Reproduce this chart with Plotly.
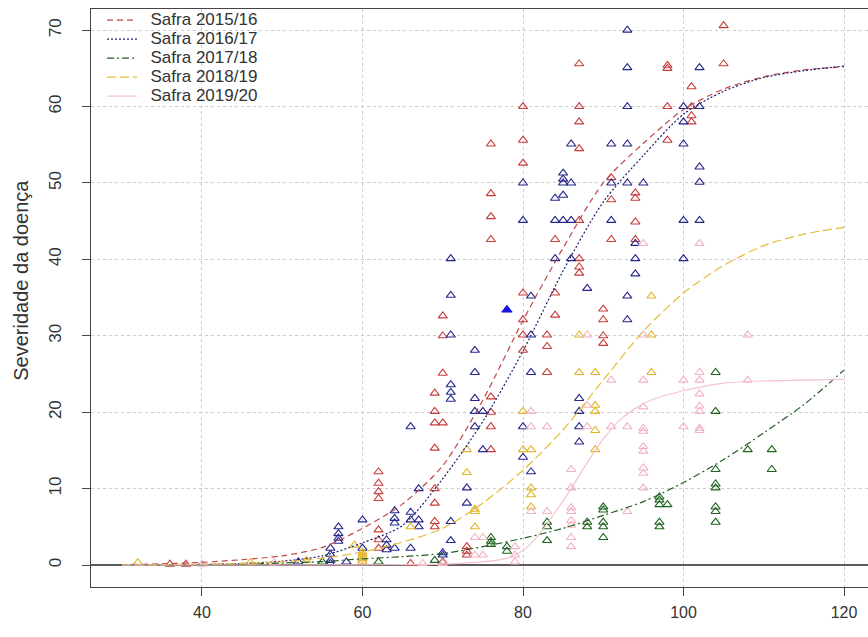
import plotly.graph_objects as go

# ---------------- data ----------------
series_names = ["Safra 2015/16", "Safra 2016/17", "Safra 2017/18", "Safra 2018/19", "Safra 2019/20"]

# observed points
red_x = [36, 38, 62, 62, 62, 62, 62, 62, 62, 66,
         69, 69, 69, 69, 69, 69, 69, 69,
         70, 70, 70, 70, 70, 73, 73, 73,
         76, 76, 76, 76, 76, 76, 76, 76,
         80, 80, 80, 80, 80, 80, 80,
         83, 83, 83, 84, 84, 84,
         87, 87, 87, 87, 87, 87, 87, 87,
         90, 90, 90, 90, 91, 91, 91,
         94, 94, 94, 94, 98, 98, 98, 98,
         101, 101, 101, 101, 105, 105]
red_y = [0.1, 0.1, 12.2, 10.7, 9.6, 8.7, 4.6, 3.3, 2.2, 0.2,
         22.5, 20.1, 18.6, 15.3, 10.0, 8.1, 5.7, 5.0,
         32.6, 30.0, 25.1, 18.6, 0.4, 2.4, 1.8, 1.3,
         55.1, 48.6, 45.6, 42.6, 22.0, 20.0, 18.1, 15.1,
         60.0, 55.6, 52.6, 35.6, 32.1, 30.1, 28.1,
         30.1, 28.6, 25.2, 42.6, 35.6, 32.7,
         65.6, 60.0, 58.0, 54.5, 45.1, 40.1, 39.0, 38.2,
         33.5, 32.1, 30.0, 29.0, 50.7, 47.8, 42.6,
         48.7, 48.0, 44.9, 42.6, 65.4, 65.0, 60.0, 55.6,
         62.6, 60.0, 58.8, 58.0, 70.6, 65.6]

blue_x = [52, 56, 56, 56, 56, 57, 57, 57, 57, 58, 60, 60,
          63, 63, 63, 64, 64, 64, 64, 66, 66, 66, 66, 67, 67, 67, 70, 70,
          71, 71, 71, 71, 71, 71, 71, 71, 73, 73,
          74, 74, 74, 74, 74, 75, 75,
          80, 80, 80, 80, 81, 81, 81, 81,
          84, 84, 84, 85, 85, 85, 85, 85, 86, 86, 86, 86,
          87, 87, 87, 87, 88, 91, 91, 91,
          93, 93, 93, 93, 93, 93, 93, 94, 94, 94, 95,
          100, 100, 100, 100, 100, 102, 102, 102, 102, 102]
blue_y = [0.4, 2.2, 1.4, 0.6, 0.2, 5.0, 4.1, 3.5, 3.1, 0.4, 5.9, 2.2,
          3.3, 2.6, 2.0, 7.1, 6.1, 5.5, 2.2, 18.1, 6.9, 5.9, 2.2, 10.0, 5.9, 5.0, 1.6, 1.3,
          40.1, 35.3, 30.1, 23.6, 22.6, 21.7, 5.7, 3.2, 10.1, 8.1,
          28.1, 25.2, 21.8, 20.1, 18.1, 20.1, 15.1,
          50.0, 45.1, 18.1, 14.1, 35.2, 30.1, 25.2, 12.2,
          48.0, 45.1, 40.1, 51.3, 50.5, 50.0, 48.4, 45.1, 55.1, 50.0, 45.1, 40.1,
          21.8, 20.1, 18.1, 16.1, 36.2, 55.1, 50.0, 45.1,
          70.0, 65.1, 60.0, 55.1, 50.0, 35.2, 32.1, 42.1, 40.1, 38.1, 50.0,
          60.0, 58.0, 55.1, 45.1, 40.1, 65.1, 60.0, 52.1, 50.1, 45.1]
blue_filled_x = [78]
blue_filled_y = [33.4]

green_x = [55, 62, 69, 76, 76, 76, 78, 78, 83, 83, 83, 88, 88,
           90, 90, 90, 90, 90, 97, 97, 97, 97, 97, 98,
           104, 104, 104, 104, 104, 104, 104, 104, 108, 111, 111]
green_y = [0.4, 0.4, 0.6, 3.6, 3.1, 2.7, 2.4, 1.8, 5.6, 5.0, 3.2, 5.6, 5.0,
           7.6, 7.2, 5.6, 5.0, 3.6, 8.9, 8.5, 7.9, 5.6, 5.0, 7.9,
           25.2, 20.1, 12.5, 10.6, 10.1, 7.6, 7.0, 5.6, 15.1, 15.1, 12.5]

yellow_x = [32, 46, 53, 59, 60, 60, 60, 60, 60, 66, 73, 73, 74, 74, 74,
            80, 80, 81, 81, 81, 81, 87, 87, 89, 89, 89, 89, 89, 96, 96, 96]
yellow_y = [0.3, 0.3, 0.6, 2.6, 0.5, 0.8, 1.1, 1.4, 1.7, 5.0, 15.1, 12.1, 7.3, 7.0, 5.0,
            20.1, 15.1, 15.1, 10.1, 9.2, 7.6, 30.1, 25.2, 25.2, 20.9, 20.1, 17.6, 15.1, 35.2, 30.1, 25.2]

pink_x = [40, 49, 67.5, 70, 74, 74, 75, 75, 79, 79, 79, 81, 81, 81, 83, 83,
          86, 86, 86, 86, 86, 86, 86, 86, 88, 88, 88, 91, 91, 93, 93,
          95, 95, 95, 95, 95, 95, 95, 95, 95, 95, 95, 100, 100,
          102, 102, 102, 102, 102, 102, 102, 102, 108, 108]
pink_y = [0.1, 0.3, 0.2, 0.2, 3.6, 1.3, 3.6, 1.3, 2.4, 1.3, 0.4, 20.1, 18.1, 7.0, 18.1, 7.0,
          12.5, 10.1, 7.5, 7.0, 5.8, 5.2, 3.6, 2.4, 30.1, 20.9, 18.1, 24.2, 18.1, 18.1, 7.0,
          42.1, 30.1, 24.2, 20.7, 17.9, 17.5, 15.5, 14.9, 12.7, 12.0, 10.1, 24.2, 18.1,
          42.1, 25.2, 24.2, 22.4, 20.8, 20.1, 17.9, 17.6, 30.1, 24.2]

# fitted curves
curve_x = [30, 35, 40, 45, 50, 55, 60, 65, 70, 75, 80, 85, 90, 95, 100, 105, 110, 115, 120]
red_fit = [0.05, 0.15, 0.35, 0.7, 1.2, 2.3, 4.8, 8.0, 13.0, 21.6, 32.0, 41.5, 50.0, 55.2, 59.6, 62.3, 63.9, 64.8, 65.2]
blue_fit = [0.0, 0.02, 0.08, 0.2, 0.5, 1.2, 2.9, 5.2, 11.3, 18.8, 28.0, 38.5, 47.5, 53.6, 59.0, 62.0, 63.8, 64.7, 65.3]
green_fit = [0.0, 0.02, 0.05, 0.1, 0.25, 0.45, 0.8, 1.1, 1.5, 2.4, 3.5, 4.8, 6.5, 8.3, 10.8, 13.8, 17.3, 21.0, 25.5]
yellow_fit = [0.0, 0.02, 0.1, 0.2, 0.4, 0.9, 1.7, 3.0, 4.8, 8.1, 12.4, 17.7, 24.2, 30.6, 35.6, 39.2, 41.8, 43.3, 44.2]
pink_curve_x = [30, 40, 50, 60, 65, 70, 75, 78, 80, 82, 84, 86, 88, 90, 92, 94, 96, 100, 105, 110, 115, 120]
pink_fit = [0.0, 0.0, 0.0, 0.02, 0.05, 0.12, 0.4, 0.9, 1.9, 4.0, 6.9, 10.0, 13.4, 16.5, 18.9, 20.5, 21.6, 22.8, 23.8, 24.1, 24.2, 24.3]

x_ticks = [40, 60, 80, 100, 120]
y_ticks = [0, 10, 20, 30, 40, 50, 60, 70]
y_title = "Severidade da doença"

# ---------------- styles ----------------
pt_colors = ["#C83C3C", "#26268C", "#1E641E", "#E3B52A", "#F2B3C2"]
ln_colors = ["#C04848", "#1C1C70", "#225E22", "#E6BC34", "#F4C4CE"]
ln_dash = ["6px,4px", "2px,2px", "7px,3px,2px,3px", "9px,4px", "solid"]

FONT = "Liberation Sans, Arial, sans-serif"

fig = go.Figure()

pts = [(red_x, red_y), (blue_x, blue_y), (green_x, green_y), (yellow_x, yellow_y), (pink_x, pink_y)]
for (xs, ys), c in zip(pts, pt_colors):
    fig.add_trace(go.Scatter(x=xs, y=ys, mode="markers", showlegend=False,
                             marker=dict(symbol="triangle-up-open", size=8, color=c,
                                         line=dict(width=1.1, color=c))))
fig.add_trace(go.Scatter(x=blue_filled_x, y=blue_filled_y, mode="markers", showlegend=False,
                         marker=dict(symbol="triangle-up", size=9, color="#1414E6",
                                     line=dict(width=1, color="#1414E6"))))

curves = [(curve_x, red_fit), (curve_x, blue_fit), (curve_x, green_fit),
          (curve_x, yellow_fit), (pink_curve_x, pink_fit)]
for (xs, ys), name, c, d in zip(curves, series_names, ln_colors, ln_dash):
    fig.add_trace(go.Scatter(x=xs, y=ys, mode="lines", line_shape="spline",
                             name="<span style='font-size:17px'>\u2002" + name + "</span>",
                             line=dict(color=c, width=1.2, dash=d, smoothing=0.8)))

fig.update_layout(
    width=868, height=637,
    margin=dict(l=91, r=0, t=9, b=50),
    paper_bgcolor="white", plot_bgcolor="white",
    font=dict(family=FONT, color="#333333"),
    legend=dict(x=0.0142, y=1.006, xanchor="left", yanchor="top",
                bgcolor="rgba(0,0,0,0)", font=dict(size=12, family=FONT, color="#333333"),
                tracegroupgap=0, itemwidth=30),
    xaxis=dict(range=[26.17, 122.99], tickvals=x_ticks, ticks="outside", ticklen=8,
               tickcolor="#444", showline=True, linecolor="#444", linewidth=1.2, mirror=True,
               showgrid=True, gridcolor="#cccccc", griddash="dot", gridwidth=1,
               zeroline=False, tickfont=dict(size=16, family=FONT, color="#333"),
               ticklabelstandoff=3),
    yaxis=dict(range=[-2.88, 72.77], tickvals=y_ticks, ticks="outside", ticklen=8,
               tickcolor="#444", showline=True, linecolor="#444", linewidth=1.2,
               showgrid=True, gridcolor="#cccccc", griddash="dot", gridwidth=1,
               zeroline=True, zerolinecolor="#5a5a5a", zerolinewidth=2,
               tickangle=-90, tickfont=dict(size=17, family=FONT, color="#333"),
               ticklabelstandoff=14),
    annotations=[dict(text=y_title, xref="paper", yref="paper", x=-0.09, y=0.53,
                      xanchor="center", yanchor="middle", textangle=-90, showarrow=False,
                      font=dict(size=20, family=FONT, color="#333"))],
)

fig.write_html("out.html")
